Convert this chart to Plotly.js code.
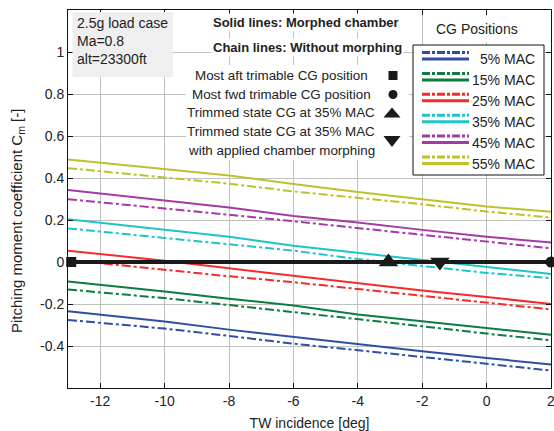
<!DOCTYPE html>
<html>
<head>
<meta charset="utf-8">
<script src="https://cdn.plot.ly/plotly-3.0.1.min.js"></script>
<style>html,body{margin:0;padding:0;background:#fff;}#chart{width:554px;height:431px;}</style>
</head>
<body>
<div id="chart"></div>
<script>
// TW incidence [deg]
const twIncidence = [-13, -10, -8, -6, -4, -2, 0, 2];
// CG positions (% MAC)
const cgPositions = [5, 15, 25, 35, 45, 55];
// Solid lines: morphed chamber
const morphed5  = [-0.235, -0.283, -0.322, -0.357, -0.393, -0.425, -0.457, -0.488];
const morphed15 = [-0.093, -0.140, -0.175, -0.207, -0.250, -0.283, -0.314, -0.346];
const morphed25 = [0.054, 0.006, -0.030, -0.065, -0.101, -0.136, -0.167, -0.200];
const morphed35 = [0.204, 0.153, 0.120, 0.077, 0.043, 0.009, -0.025, -0.057];
const morphed45 = [0.343, 0.294, 0.260, 0.219, 0.188, 0.153, 0.120, 0.093];
const morphed55 = [0.488, 0.444, 0.412, 0.371, 0.333, 0.299, 0.264, 0.239];
// Chain lines: without morphing
const baseline5  = [-0.276, -0.317, -0.352, -0.389, -0.420, -0.452, -0.483, -0.517];
const baseline15 = [-0.131, -0.172, -0.205, -0.238, -0.273, -0.306, -0.341, -0.373];
const baseline25 = [0.010, -0.038, -0.068, -0.096, -0.128, -0.160, -0.194, -0.226];
const baseline35 = [0.160, 0.115, 0.085, 0.054, 0.014, -0.020, -0.052, -0.077];
const baseline45 = [0.299, 0.256, 0.225, 0.194, 0.161, 0.130, 0.095, 0.065];
const baseline55 = [0.447, 0.404, 0.373, 0.336, 0.307, 0.275, 0.240, 0.212];
// Trim line (Cm = 0)
const trimLineX = [-13, 2];
const trimLineY = [0, 0];
// Marker points
const aftCgX = [-12.9], aftCgY = [0];
const fwdCgX = [2], fwdCgY = [0];
const trim35X = [-3.05], trim35Y = [0];
const trim35MorphX = [-1.45], trim35MorphY = [0];
// Ticks
const xTickVals = [-12, -10, -8, -6, -4, -2, 0, 2];
const xTickText = ['-12', '-10', '-8', '-6', '-4', '-2', '0', '2'];
const yTickVals = [-0.4, -0.2, 0, 0.2, 0.4, 0.6, 0.8, 1];
const yTickText = ['-0.4', '-0.2', '0', '0.2', '0.4', '0.6', '0.8', '1'];

const colors = ['#2f4fa5', '#0b7d3e', '#f52a2a', '#1fc4c8', '#a43aa4', '#bfc02c'];
const morphedSeries = [morphed5, morphed15, morphed25, morphed35, morphed45, morphed55];
const baselineSeries = [baseline5, baseline15, baseline25, baseline35, baseline45, baseline55];
const chainDash = '9px,3px,3px,3px';

const traces = [];
for (let i = 0; i < cgPositions.length; i++) {
  traces.push({x: twIncidence, y: baselineSeries[i], type: 'scatter', mode: 'lines',
    line: {color: colors[i], width: 2, dash: chainDash}, showlegend: false, hoverinfo: 'skip'});
  traces.push({x: twIncidence, y: morphedSeries[i], type: 'scatter', mode: 'lines',
    line: {color: colors[i], width: 2}, showlegend: false, hoverinfo: 'skip'});
}
traces.push({x: trimLineX, y: trimLineY, type: 'scatter', mode: 'lines',
  line: {color: '#1a1a1a', width: 4}, showlegend: false, cliponaxis: false});
traces.push({x: aftCgX, y: aftCgY, type: 'scatter', mode: 'markers', cliponaxis: false,
  marker: {symbol: 'square', size: 10, color: '#1a1a1a'}, showlegend: false});
traces.push({x: fwdCgX, y: fwdCgY, type: 'scatter', mode: 'markers', cliponaxis: false,
  marker: {symbol: 'circle', size: 11, color: '#1a1a1a'}, showlegend: false});
traces.push({x: trim35X, y: trim35Y, type: 'scatter', mode: 'markers', cliponaxis: false,
  marker: {symbol: 'triangle-up', size: 17, color: '#1a1a1a'}, showlegend: false});
traces.push({x: trim35MorphX, y: trim35MorphY, type: 'scatter', mode: 'markers', cliponaxis: false,
  marker: {symbol: 'triangle-down', size: 17, color: '#1a1a1a'}, showlegend: false});

// pixel -> paper helpers
const L = 68, R = 551, T = 10, B = 388;
const px = x => (x - L) / (R - L);
const py = y => (B - y) / (B - T);

const font = 'Arial, "Liberation Sans", sans-serif';
const shapes = [];
const annotations = [];
const note = (o) => Object.assign({xref: 'paper', yref: 'paper', showarrow: false, xanchor: 'center', yanchor: 'middle'}, o);

// info box
shapes.push({type: 'rect', xref: 'paper', yref: 'paper', x0: px(72.5), x1: px(173), y0: py(77), y1: py(12),
  fillcolor: '#efefef', line: {width: 0}, layer: 'above'});
annotations.push(note({x: px(75), y: py(13), xanchor: 'left', yanchor: 'top', align: 'left',
  text: '2.5g load case<br>Ma=0.8<br>alt=23300ft', font: {family: font, size: 14, color: '#222'}}));

// line style notes
annotations.push(note({x: px(306), y: py(22), bgcolor: '#fff', borderpad: 1,
  text: '<b>Solid lines: Morphed chamber</b>', font: {family: font, size: 13, color: '#222'}}));
annotations.push(note({x: px(307), y: py(47), bgcolor: '#fff', borderpad: 1,
  text: '<b>Chain lines: Without morphing</b>', font: {family: font, size: 13, color: '#222'}}));

// marker key
shapes.push({type: 'rect', xref: 'paper', yref: 'paper', x0: px(186), x1: px(409), y0: py(160), y1: py(65),
  fillcolor: '#fff', line: {width: 0}, layer: 'above'});
const keyLines = ['Most aft trimable CG position', 'Most fwd trimable CG position', 'Trimmed state CG at 35% MAC',
  'Trimmed state CG at 35% MAC', 'with applied chamber morphing'];
const keyY = [75.7, 94.3, 112.3, 131.7, 150];
for (let i = 0; i < keyLines.length; i++) {
  annotations.push(note({x: px(281), y: py(keyY[i]),
    text: keyLines[i], font: {family: font, size: 13.4, color: '#222'}}));
}
shapes.push({type: 'rect', xref: 'paper', yref: 'paper', x0: px(388.5), x1: px(397.5), y0: py(80), y1: py(71),
  fillcolor: '#1a1a1a', line: {width: 0}, layer: 'above'});
shapes.push({type: 'circle', xref: 'paper', yref: 'paper', x0: px(388.5), x1: px(397.5), y0: py(99), y1: py(90),
  fillcolor: '#1a1a1a', line: {width: 0}, layer: 'above'});
shapes.push({type: 'path', xref: 'paper', yref: 'paper',
  path: `M ${px(383.5)} ${py(117.5)} L ${px(400.5)} ${py(117.5)} L ${px(392)} ${py(107.5)} Z`,
  fillcolor: '#1a1a1a', line: {width: 0}, layer: 'above'});
shapes.push({type: 'path', xref: 'paper', yref: 'paper',
  path: `M ${px(383.5)} ${py(136)} L ${px(400.5)} ${py(136)} L ${px(392)} ${py(147)} Z`,
  fillcolor: '#1a1a1a', line: {width: 0}, layer: 'above'});

// CG legend
annotations.push(note({x: px(477), y: py(29), bgcolor: '#fff', borderpad: 5,
  text: 'CG Positions', font: {family: font, size: 14, color: '#222'}}));
shapes.push({type: 'rect', xref: 'paper', yref: 'paper', x0: px(413), x1: px(544), y0: py(175), y1: py(45),
  fillcolor: '#fff', line: {color: '#111', width: 1}, layer: 'above'});
for (let i = 0; i < cgPositions.length; i++) {
  const c = 59 + i * 20.9;
  shapes.push({type: 'line', xref: 'paper', yref: 'paper', x0: px(422), x1: px(469), y0: py(c - 6.5), y1: py(c - 6.5),
    line: {color: colors[i], width: 3, dash: '8px,2px,3px,2px'}, layer: 'above'});
  shapes.push({type: 'line', xref: 'paper', yref: 'paper', x0: px(422), x1: px(469), y0: py(c), y1: py(c),
    line: {color: colors[i], width: 3}, layer: 'above'});
  annotations.push(note({x: px(537), y: py(c), xanchor: 'right',
    text: cgPositions[i] + '% MAC', font: {family: font, size: 14, color: '#222'}}));
}

// y axis title
annotations.push(note({x: px(18), y: py(221), textangle: -90,
  text: 'Pitching moment coefficient C<sub>m</sub> [-]', font: {family: font, size: 15, color: '#222'}}));

const axisCommon = {
  showline: true, linecolor: '#111', linewidth: 1, mirror: 'ticks',
  ticks: 'inside', ticklen: 5, tickcolor: '#111', tickwidth: 1,
  showgrid: true, gridcolor: '#c0c0c0', gridwidth: 1, zeroline: false,
  tickfont: {family: font, size: 14, color: '#222'}, automargin: false,
  ticklabeloverflow: 'allow'
};

const layout = {
  width: 554, height: 431,
  margin: {l: L, r: 554 - R, t: T, b: 431 - B},
  paper_bgcolor: '#fff', plot_bgcolor: '#fff',
  font: {family: font, color: '#222'},
  showlegend: false,
  xaxis: Object.assign({}, axisCommon, {
    range: [-13, 2], tickvals: xTickVals, ticktext: xTickText,
    title: {text: 'TW incidence [deg]', font: {family: font, size: 14, color: '#222'}, standoff: 16}
  }),
  yaxis: Object.assign({}, axisCommon, {
    range: [-0.6, 1.2], tickvals: yTickVals, ticktext: yTickText
  }),
  shapes: shapes,
  annotations: annotations
};

Plotly.newPlot('chart', traces, layout, {displayModeBar: false, staticPlot: true});
</script>
</body>
</html>
